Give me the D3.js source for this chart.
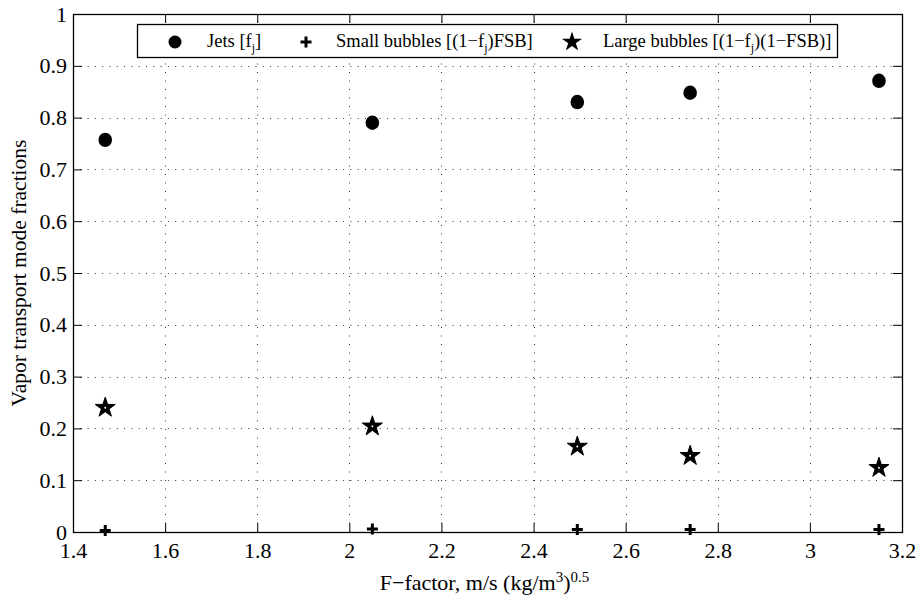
<!DOCTYPE html>
<html>
<head>
<meta charset="utf-8">
<script src="https://cdn.jsdelivr.net/npm/d3@7"></script>
<style>
  html, body { margin: 0; padding: 0; background: #fff; }
  svg { display: block; font-family: "Liberation Serif", "Times New Roman", serif; }
</style>
</head>
<body>
<svg id="chart" width="919" height="596"></svg>
<script>
// F-factor values (m/s (kg/m^3)^0.5)
const fFactor = [1.47, 2.05, 2.495, 2.74, 3.15];
// Vapor transport mode fractions
const jets = [0.757, 0.790, 0.830, 0.848, 0.871];
const smallBubbles = [0.003, 0.006, 0.005, 0.005, 0.005];
const largeBubbles = [0.240, 0.204, 0.165, 0.147, 0.124];

const xTicks = [1.4, 1.6, 1.8, 2, 2.2, 2.4, 2.6, 2.8, 3, 3.2];
const yTicks = [0, 0.1, 0.2, 0.3, 0.4, 0.5, 0.6, 0.7, 0.8, 0.9, 1];

const svg = d3.select("#chart");
const m = { left: 73, right: 902, top: 14, bottom: 532 };

const x = d3.scaleLinear().domain([1.4, 3.2]).range([m.left, m.right]);
const y = d3.scaleLinear().domain([0, 1]).range([m.bottom, m.top]);

const fmt = d => String(+d.toFixed(1));
const tickLen = 9;

// dotted grid
const grid = svg.append("g").attr("stroke", "#333").attr("stroke-width", 1);
grid.selectAll("line.v").data(xTicks.slice(1, -1)).join("line")
  .attr("stroke-dasharray", "1,7.5")
  .attr("x1", d => Math.round(x(d)) + 0.5).attr("x2", d => Math.round(x(d)) + 0.5)
  .attr("y1", m.bottom).attr("y2", m.top);
grid.selectAll("line.h").data(yTicks.slice(1, -1)).join("line")
  .attr("stroke-dasharray", "1,6.3")
  .attr("y1", d => Math.round(y(d)) + 0.5).attr("y2", d => Math.round(y(d)) + 0.5)
  .attr("x1", m.left).attr("x2", m.right);

// axes with inward ticks on all four sides
const axisStyle = g => {
  g.select(".domain").remove();
  g.selectAll(".tick line").attr("stroke", "#000");
  g.selectAll(".tick text").attr("fill", "#000").style("font-size", "22px")
    .style("font-family", "Liberation Serif, serif");
};
svg.append("g").attr("transform", `translate(0,${m.bottom})`)
  .call(d3.axisBottom(x).tickValues(xTicks).tickFormat(fmt).tickSizeInner(-tickLen).tickSizeOuter(0).tickPadding(10))
  .call(axisStyle);
svg.append("g").attr("transform", `translate(0,${m.top})`)
  .call(d3.axisTop(x).tickValues(xTicks).tickFormat("").tickSizeInner(-tickLen).tickSizeOuter(0))
  .call(axisStyle);
svg.append("g").attr("transform", `translate(${m.left},0)`)
  .call(d3.axisLeft(y).tickValues(yTicks).tickFormat(fmt).tickSizeInner(-tickLen).tickSizeOuter(0).tickPadding(6))
  .call(axisStyle);
svg.append("g").attr("transform", `translate(${m.right},0)`)
  .call(d3.axisRight(y).tickValues(yTicks).tickFormat("").tickSizeInner(-tickLen).tickSizeOuter(0))
  .call(axisStyle);

// frame
svg.append("rect").attr("x", m.left + 0.5).attr("y", m.top + 0.5)
  .attr("width", m.right - m.left).attr("height", m.bottom - m.top)
  .attr("fill", "none").attr("stroke", "#000").attr("stroke-width", 1.3);

// markers
const star = d3.symbol().type(d3.symbolStar).size(125);
const plus = "M-5.5,0H5.5M0,-5.5V5.5";

const pts = svg.append("g");
pts.selectAll("ellipse.jet").data(fFactor).join("ellipse")
  .attr("cx", d => x(d)).attr("cy", (d, i) => y(jets[i])).attr("rx", 6.8).attr("ry", 7.2)
  .attr("fill", "#000");
pts.selectAll("path.small").data(fFactor).join("path")
  .attr("transform", (d, i) => `translate(${x(d)},${y(smallBubbles[i])})`)
  .attr("d", plus).attr("stroke", "#000").attr("stroke-width", 3).attr("fill", "none");
pts.selectAll("path.large").data(fFactor).join("path")
  .attr("transform", (d, i) => `translate(${x(d)},${y(largeBubbles[i])})`)
  .attr("d", star).attr("fill", "#000").attr("stroke", "#000").attr("stroke-width", 1);
pts.selectAll("circle.largec").data(fFactor).join("circle")
  .attr("cx", d => x(d)).attr("cy", (d, i) => y(largeBubbles[i])).attr("r", 1)
  .attr("fill", "#fff");

// legend
const lg = svg.append("g");
lg.append("rect").attr("x", 137.5).attr("y", 24.5).attr("width", 700).attr("height", 33)
  .attr("fill", "#fff").attr("stroke", "#000").attr("stroke-width", 1.3);
const ly = 42;
lg.append("circle").attr("cx", 175).attr("cy", ly).attr("r", 6.5).attr("fill", "#000");
lg.append("path").attr("transform", `translate(306,${ly})`).attr("d", plus)
  .attr("stroke", "#000").attr("stroke-width", 3);
lg.append("path").attr("transform", `translate(572,${ly})`).attr("d", star).attr("fill", "#000");

const legText = (tx, parts) => {
  const t = lg.append("text").attr("x", tx).attr("y", ly + 5).style("font-size", "18.5px");
  parts.forEach(p => {
    const s = t.append("tspan").text(p.t);
    if (p.sub) s.attr("dy", 5).style("font-size", "12px");
    if (p.back) s.attr("dy", -5);
  });
};
legText(207, [{ t: "Jets [f" }, { t: "j", sub: true }, { t: "]", back: true }]);
legText(336, [{ t: "Small bubbles [(1\u2212f" }, { t: "j", sub: true }, { t: ")FSB]", back: true }]);
legText(603, [{ t: "Large bubbles [(1\u2212f" }, { t: "j", sub: true }, { t: ")(1\u2212FSB)]", back: true }]);

// axis titles
const xl = svg.append("text").attr("x", (m.left + m.right) / 2 - 3).attr("y", 590)
  .attr("text-anchor", "middle").style("font-size", "22px");
xl.append("tspan").text("F\u2212factor, m/s (kg/m");
xl.append("tspan").text("3").attr("dy", -8).style("font-size", "15px");
xl.append("tspan").text(")").attr("dy", 8);
xl.append("tspan").text("0.5").attr("dy", -8).style("font-size", "15px");

svg.append("text").attr("transform", `translate(26,${(m.top + m.bottom) / 2}) rotate(-90)`)
  .attr("text-anchor", "middle").style("font-size", "21.5px")
  .text("Vapor transport mode fractions");
</script>
</body>
</html>
